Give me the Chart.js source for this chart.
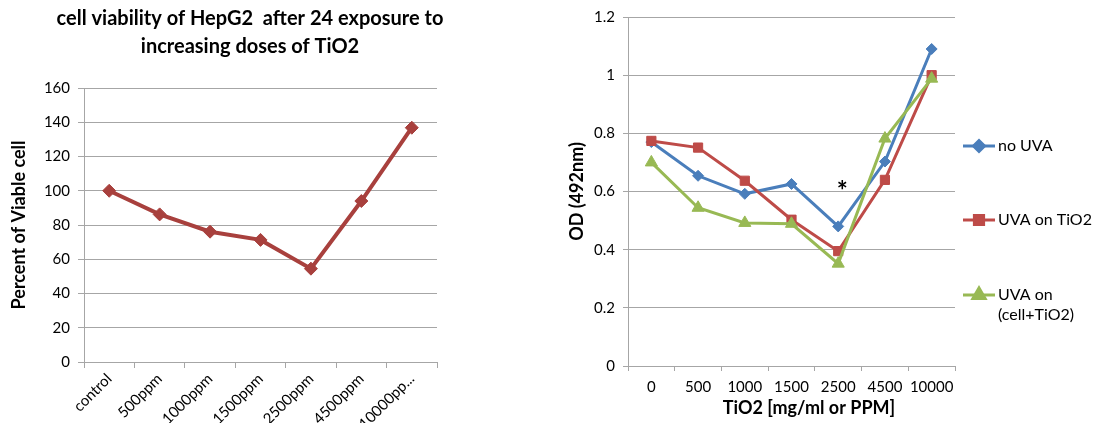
<!DOCTYPE html>
<html>
<head>
<meta charset="utf-8">
<script src="https://cdn.jsdelivr.net/npm/chart.js@4.4.0/dist/chart.umd.min.js"></script>
<style>
    body { margin: 0; background: #fff; overflow: hidden; }
    #leftBox { position: absolute; left: 0; top: 0; width: 500px; height: 423px; }
    #rightBox { position: absolute; left: 560px; top: 0; width: 554px; height: 423px; }
</style>
</head>
<body>
<div id="leftBox"><canvas id="chartViability"></canvas></div>
<div id="rightBox"><canvas id="chartOD"></canvas></div>
<script>
// left chart data
var doseLabels = ['control', '500ppm', '1000ppm', '1500ppm', '2500ppm', '4500ppm', '10000pp...'];
var viableCell = [100, 86.2, 76.1, 71.3, 54.5, 94, 136.8];

// right chart data
var tioLabels = ['0', '500', '1000', '1500', '2500', '4500', '10000'];
var noUVA = [0.77, 0.654, 0.592, 0.626, 0.48, 0.703, 1.09];
var uvaOnTiO2 = [0.774, 0.751, 0.637, 0.503, 0.395, 0.64, 1.0];
var uvaOnCell = [0.70, 0.544, 0.492, 0.489, 0.352, 0.782, 0.988];
var starLabel = '2500';
var starValue = 0.62;

var font = 'Lato';
var gridGray = '#a6a6a6';
Chart.defaults.font.family = font;
Chart.defaults.color = '#000';

// centre the title on the whole canvas, not just the padded box
var wideTitle = {
    id: 'wideTitle',
    beforeDraw: function(chart) {
        if (chart.titleBlock) {
            chart.titleBlock.left = 0;
            chart.titleBlock.right = chart.width;
        }
    }
};

function chartViability() {
    var ctx = document.querySelector('#chartViability').getContext('2d');
    return new Chart(ctx, {
        type: 'line',
        data: {
            labels: doseLabels,
            datasets: [{
                data: viableCell,
                borderColor: '#a8403d',
                backgroundColor: '#a8403d',
                borderWidth: 4,
                pointStyle: 'rectRot',
                pointRadius: 6.5,
                pointBorderWidth: 1,
                tension: 0
            }]
        },
        options: {
            responsive: true,
            maintainAspectRatio: false,
            animation: false,
            layout: { padding: { left: 0, right: 63, top: 0, bottom: 0 } },
            plugins: {
                legend: { display: false },
                tooltip: { enabled: false },
                title: {
                    display: true,
                    text: ['cell viability of HepG2  after 24 exposure to', 'increasing doses of TiO2'],
                    font: { family: font, size: 20, weight: 'bold', lineHeight: 1.4 },
                    color: '#000',
                    padding: { top: 5, bottom: 27 }
                }
            },
            scales: {
                x: {
                    offset: true,
                    grid: { offset: true, drawOnChartArea: false, color: gridGray, tickLength: 6 },
                    border: { color: gridGray },
                    ticks: { maxRotation: 45, minRotation: 45, font: { size: 15 }, padding: 2 },
                    afterFit: function(scale) { scale.height = 61; }
                },
                y: {
                    min: 0,
                    max: 160,
                    ticks: { stepSize: 20, font: { size: 15 }, padding: 8 },
                    grid: { color: gridGray, tickLength: 6 },
                    border: { color: gridGray },
                    title: {
                        display: true,
                        text: 'Percent of Viable cell',
                        font: { size: 18, weight: 'bold' },
                        padding: { top: 8, bottom: 4 }
                    },
                    afterFit: function(scale) { scale.width = 84; }
                }
            }
        },
        plugins: [wideTitle]
    });
}

// legend drawn at right of the plot, one row per dataset
var sideLegend = {
    id: 'sideLegend',
    afterDraw: function(chart) {
        var ctx = chart.ctx;
        var area = chart.chartArea;
        var rows = [129, 203, 278];
        var x0 = area.right + 8;
        ctx.save();
        chart.data.datasets.forEach(function(ds, i) {
            var y = area.top + rows[i];
            ctx.strokeStyle = ds.borderColor;
            ctx.lineWidth = 3;
            ctx.beginPath();
            ctx.moveTo(x0, y);
            ctx.lineTo(x0 + 32, y);
            ctx.stroke();
            ctx.fillStyle = ds.backgroundColor;
            Chart.helpers.drawPoint(ctx, {
                pointStyle: ds.pointStyle, radius: ds.pointRadius, rotation: 0, borderWidth: 1
            }, x0 + 16, y);
            ctx.fillStyle = '#000';
            ctx.font = '16px ' + font;
            ctx.textBaseline = 'middle';
            ctx.textAlign = 'left';
            var lines = ds.label.split('\n');
            lines.forEach(function(t, k) {
                ctx.fillText(t, x0 + 35, y + k * 20);
            });
        });
        ctx.restore();
    }
};

// significance star above the 2500 point
var starMark = {
    id: 'starMark',
    afterDatasetsDraw: function(chart) {
        var ctx = chart.ctx;
        var x = chart.scales.x.getPixelForValue(tioLabels.indexOf(starLabel));
        var y = chart.scales.y.getPixelForValue(starValue);
        ctx.save();
        ctx.fillStyle = '#000';
        ctx.font = 'bold 26px ' + font;
        ctx.textAlign = 'center';
        ctx.textBaseline = 'middle';
        ctx.fillText('*', x + 4, y + 6);
        ctx.restore();
    }
};

function chartOD() {
    var ctx = document.querySelector('#chartOD').getContext('2d');
    return new Chart(ctx, {
        type: 'line',
        data: {
            labels: tioLabels,
            datasets: [{
                label: 'no UVA',
                data: noUVA,
                borderColor: '#4a7ebb',
                backgroundColor: '#4a7ebb',
                pointStyle: 'rectRot',
                pointRadius: 5.5,
                order: 2
            }, {
                label: 'UVA on TiO2',
                data: uvaOnTiO2,
                borderColor: '#be4b48',
                backgroundColor: '#be4b48',
                pointStyle: 'rect',
                pointRadius: 6.5,
                order: 1
            }, {
                label: 'UVA on\n(cell+TiO2)',
                data: uvaOnCell,
                borderColor: '#98b954',
                backgroundColor: '#98b954',
                pointStyle: 'triangle',
                pointRadius: 7,
                order: 0
            }]
        },
        options: {
            responsive: true,
            maintainAspectRatio: false,
            animation: false,
            elements: {
                line: { borderWidth: 3, tension: 0 },
                point: { borderWidth: 1 }
            },
            layout: { padding: { left: 0, right: 159, top: 16, bottom: 0 } },
            plugins: {
                legend: { display: false },
                tooltip: { enabled: false }
            },
            scales: {
                x: {
                    offset: true,
                    grid: { offset: true, drawOnChartArea: false, color: gridGray, tickLength: 5 },
                    border: { color: gridGray },
                    ticks: { font: { size: 15 }, padding: 7, maxRotation: 0 },
                    title: {
                        display: true,
                        text: '        TiO2 [mg/ml or PPM]',
                        font: { size: 18, weight: 'bold' },
                        padding: { top: 2, bottom: 4 }
                    },
                    afterFit: function(scale) { scale.height = 57; }
                },
                y: {
                    min: 0,
                    max: 1.2,
                    ticks: {
                        stepSize: 0.2,
                        font: { size: 15 },
                        padding: 8,
                        callback: function(v) { return String(+v.toFixed(1)); }
                    },
                    grid: { color: gridGray, tickLength: 5 },
                    border: { color: gridGray },
                    title: {
                        display: true,
                        text: 'OD (492nm)',
                        font: { size: 18, weight: 'bold' },
                        padding: { top: 6, bottom: 4 }
                    },
                    afterFit: function(scale) { scale.width = 68; }
                }
            }
        },
        plugins: [sideLegend, starMark]
    });
}

chartViability();
chartOD();
</script>
</body>
</html>
